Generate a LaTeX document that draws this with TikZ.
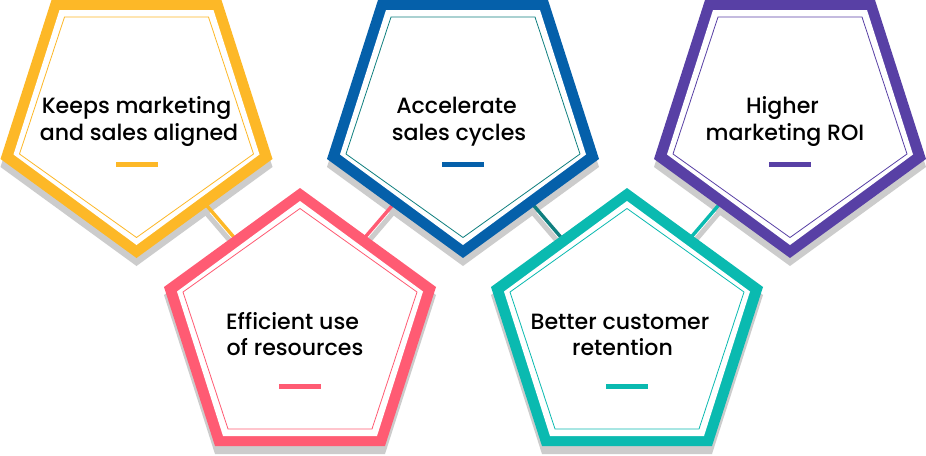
\documentclass[tikz,border=0pt]{standalone}
\usepackage{fontspec}
\setmainfont{Poppins Medium}
\definecolor{cyellow}{HTML}{FDB827}
\definecolor{cblue}{HTML}{0560AA}
\definecolor{cpink}{HTML}{FF5B73}
\definecolor{cteal}{HTML}{0ABAB0}
\definecolor{cpurple}{HTML}{5840A5}
\definecolor{cdark}{HTML}{0F7F7F}
\definecolor{cshadow}{HTML}{CCCCCC}
\newcommand\linegap{\rule{5pt}{0pt}}
% #1 centre x, #2 y of apex, #3 direction (1 = apex up, -1 = apex down)
\newcommand\pentshadow[3]{%
  \fill[cshadow,shift={(#1,#2+8)},yscale=#3]
    (0,0) -- (136,99) -- (85,258) -- (-85,258) -- (-136,99) -- cycle;}
\newcommand\pentbody[5]{%
  \begin{scope}[shift={(#1,#2)},yscale=#3]
    \fill[#4] (0,0) -- (136,99) -- (85,258) -- (-85,258) -- (-136,99) -- cycle;
    \fill[white] (0,13) -- (123,103.5) -- (77,248) -- (-77,248) -- (-123,103.5) -- cycle;
    \draw[#5,line width=.8pt,line join=miter] (0,20.5) -- (117,104) -- (72,241) -- (-72,241) -- (-117,104) -- cycle;
  \end{scope}}
\tikzset{
  label/.style={inner sep=0pt,font=\fontsize{22.1}{26.3}\selectfont,align=center,text=black,anchor=base},
  barmark/.style={inner sep=0pt,minimum width=42pt,minimum height=5.2pt,draw=none},
  stem/.style={line width=3.4pt},
  stemshadow/.style={cshadow,line width=5pt},
}
\begin{document}
\begin{tikzpicture}[x=1pt,y=-1pt]
\useasboundingbox (0,0) rectangle (926,455);
\fill[white] (0,0) rectangle (926,455);
% stem ends
\coordinate (a1) at (205,203.5);  \coordinate (a2) at (235,238.5);
\coordinate (b1) at (394,203.5);  \coordinate (b2) at (364,238.5);
\coordinate (c1) at (532,203.5);  \coordinate (c2) at (562,238.5);
\coordinate (d1) at (720,203.5);  \coordinate (d2) at (690,238.5);
% shadows
\pentshadow{136.5}{258}{-1}
\pentshadow{463}{258}{-1}
\pentshadow{790}{258}{-1}
\pentshadow{300}{188}{1}
\pentshadow{627}{188}{1}
\foreach \p/\q in {a1/a2,b1/b2,c1/c2,d1/d2}
  \draw[stemshadow,transform canvas={yshift=-8pt}] (\p) -- (\q);
% stems
\draw[stem,cyellow] (a1) -- (a2);
\draw[stem,cpink] (b1) -- (b2);
\draw[stem,cdark] (c1) -- (c2);
\draw[stem,cteal] (d1) -- (d2);
% pentagons
\pentbody{136.5}{258}{-1}{cyellow}{cyellow}
\pentbody{463}{258}{-1}{cblue}{cdark}
\pentbody{790}{258}{-1}{cpurple}{cpurple}
\pentbody{300}{188}{1}{cpink}{cpink}
\pentbody{627}{188}{1}{cteal}{cteal}
% labels
\node[label] (t1) at (139,140) {Keeps marketing\linegap\\and sales aligned};
\node[label] (t2) at (459,140) {Accelerate\linegap\\sales cycles};
\node[label] (t3) at (785,140) {Higher\linegap\\marketing ROI};
\node[label] (t4) at (295,355.6) {Efficient use\linegap\\of resources};
\node[label] (t5) at (622.5,355.6) {Better customer\linegap\\retention};
% bars
\node[barmark,fill=cyellow] (m1) at (136.5,164.5) {};
\node[barmark,fill=cblue] (m2) at (463,164.5) {};
\node[barmark,fill=cpurple] (m3) at (790,164.5) {};
\node[barmark,fill=cpink] (m4) at (300,386.5) {};
\node[barmark,fill=cteal] (m5) at (627,386.5) {};
\end{tikzpicture}
\end{document}
